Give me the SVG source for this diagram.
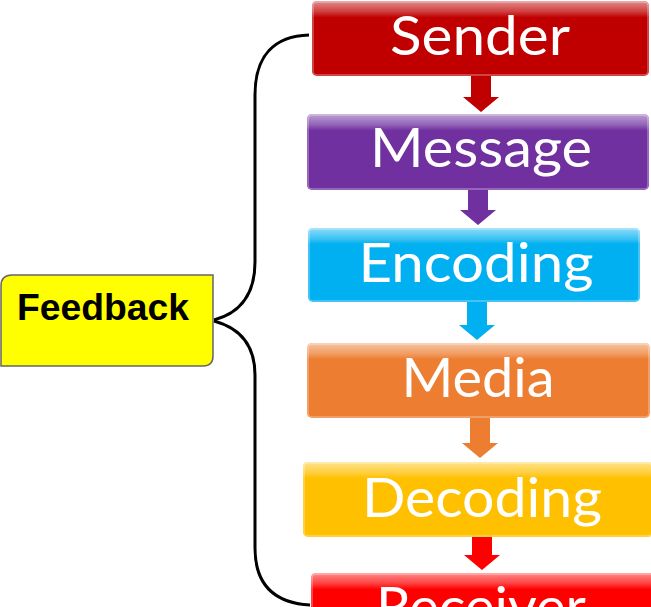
<svg xmlns="http://www.w3.org/2000/svg" width="651" height="607" viewBox="0 0 651 607">
<style>
.lbl{font-family:Lato,"Open Sans","Liberation Sans",sans-serif;font-size:54px;fill:#fff;text-anchor:middle}
.fb{font-family:"Liberation Sans",Arial,sans-serif;font-weight:bold;font-size:36px;fill:#000}
.gloss{fill:url(#gloss)}
.edge{fill:none;stroke:#fff;stroke-opacity:0.35;stroke-width:1.5}
.conn{fill:none;stroke:#000;stroke-width:3}
</style>
<defs>
<linearGradient id="gloss" x1="0" y1="0" x2="0" y2="1">
<stop offset="0" stop-color="#fff" stop-opacity="0.55"/>
<stop offset="0.14" stop-color="#fff" stop-opacity="0.25"/>
<stop offset="0.22" stop-color="#fff" stop-opacity="0"/>
<stop offset="1" stop-color="#fff" stop-opacity="0"/>
</linearGradient>
<linearGradient id="shaft" x1="0" y1="0" x2="1" y2="0">
<stop offset="0" stop-color="#000" stop-opacity="0"/>
<stop offset="0.6" stop-color="#fff" stop-opacity="0.3"/>
<stop offset="1" stop-color="#000" stop-opacity="0"/>
</linearGradient>
</defs>

<g id="connectors">
<path class="conn" d="M214,320 C240,313 255,295 255,262 L255,95 C255,55 275,36 309,35"/>
<path class="conn" d="M214,321 C240,328 255,345 255,375 L255,548 C255,585 275,603 310,605"/>
<path d="M471,76 h20 v21 h8 l-18,15 l-18,-15 h8 z" fill="#C00000"/>
<path d="M468,190 h20 v20 h8 l-18,15 l-18,-15 h8 z" fill="#7030A0"/>
<path d="M467,302 h20 v23 h8 l-18,15 l-18,-15 h8 z" fill="#00B0F0"/>
<path d="M470,418 h20 v25 h8 l-18,15 l-18,-15 h8 z" fill="#ED7D31"/>
<path d="M472,537 h20 v18 h8 l-18,15 l-18,-15 h8 z" fill="#FF0000"/>
</g>

<g id="feedback">
<path d="M12,275 H213 V356 Q213,366 203,366 H1 V286 Q1,275 12,275 Z" fill="#FFFF00" stroke="#666" stroke-width="1.5"/>
<text class="fb" x="17" y="320" textLength="172" lengthAdjust="spacingAndGlyphs">Feedback</text>
</g>

<g id="sender">
<rect x="312" y="1" width="337" height="75" rx="5" fill="#C00000"/>
<rect x="312" y="1" width="337" height="75" rx="5" class="gloss"/>
<rect x="313" y="2" width="335" height="73" rx="4" class="edge"/>
<text class="lbl" x="480" y="55" textLength="180" lengthAdjust="spacingAndGlyphs">Sender</text>
</g>

<g id="message">
<rect x="307" y="114" width="342" height="76" rx="5" fill="#7030A0"/>
<rect x="307" y="114" width="342" height="76" rx="5" class="gloss"/>
<rect x="308" y="115" width="340" height="74" rx="4" class="edge"/>
<text class="lbl" x="481" y="167" textLength="222" lengthAdjust="spacingAndGlyphs">Message</text>
</g>

<g id="encoding">
<rect x="308" y="228" width="332" height="74" rx="5" fill="#00B0F0"/>
<rect x="308" y="228" width="332" height="74" rx="5" class="gloss"/>
<rect x="309" y="229" width="330" height="72" rx="4" class="edge"/>
<text class="lbl" x="476" y="282" textLength="235" lengthAdjust="spacingAndGlyphs">Encoding</text>
</g>

<g id="media">
<rect x="307" y="343" width="343" height="75" rx="5" fill="#ED7D31"/>
<rect x="307" y="343" width="343" height="75" rx="5" class="gloss"/>
<rect x="308" y="344" width="341" height="73" rx="4" class="edge"/>
<text class="lbl" x="478" y="397" textLength="153" lengthAdjust="spacingAndGlyphs">Media</text>
</g>

<g id="decoding">
<rect x="303" y="462" width="350" height="75" rx="5" fill="#FFC000"/>
<rect x="303" y="462" width="350" height="75" rx="5" class="gloss"/>
<rect x="304" y="463" width="348" height="73" rx="4" class="edge"/>
<text class="lbl" x="482" y="517" textLength="240" lengthAdjust="spacingAndGlyphs">Decoding</text>
</g>

<g id="receiver">
<rect x="311" y="573" width="345" height="75" rx="5" fill="#FF0000"/>
<rect x="311" y="573" width="345" height="75" rx="5" class="gloss"/>
<rect x="312" y="574" width="343" height="73" rx="4" class="edge"/>
<text class="lbl" x="481" y="626" textLength="210" lengthAdjust="spacingAndGlyphs">Receiver</text>
</g>
</svg>
